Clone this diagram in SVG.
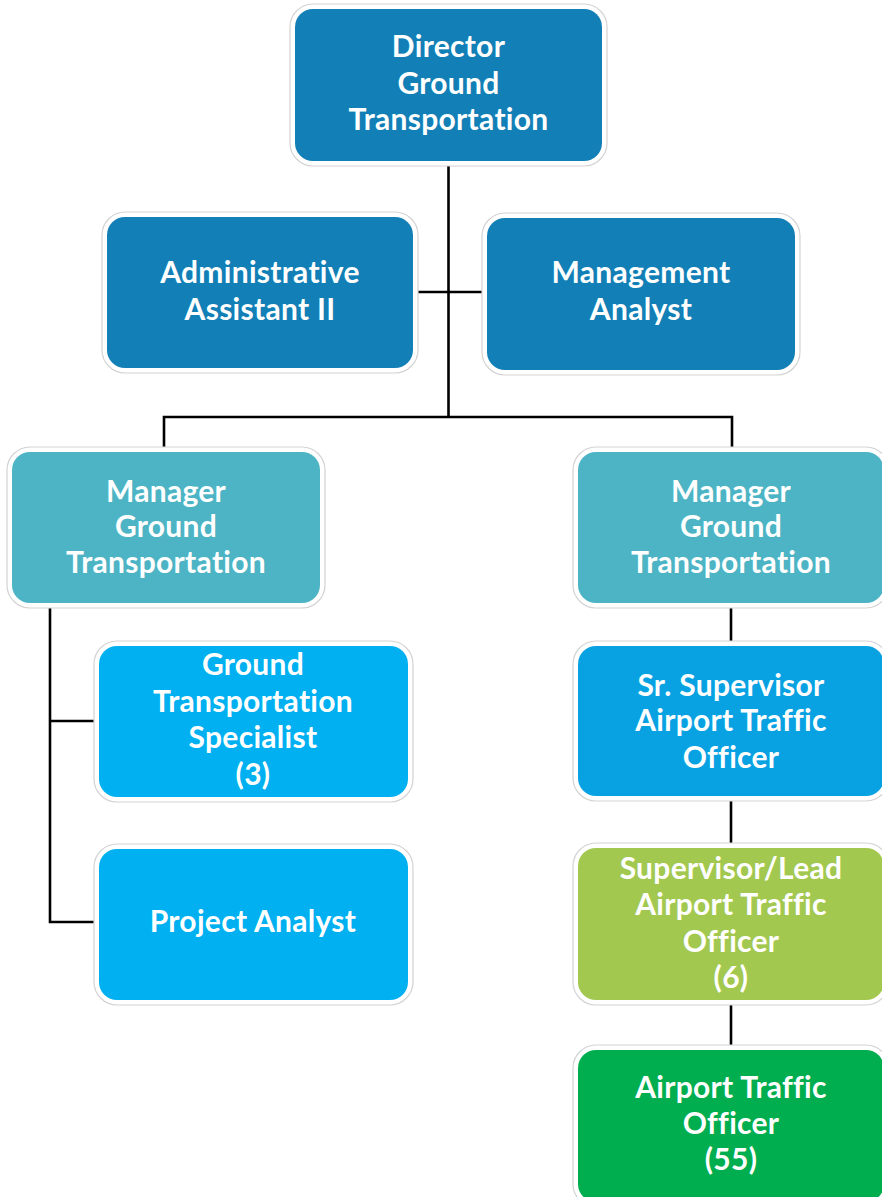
<svg xmlns="http://www.w3.org/2000/svg" width="882" height="1197" viewBox="0 0 882 1197">
<style>
.bg{fill:#fff;stroke:#d3d3d3;stroke-width:1.2}
.t{font-family:Lato,"Open Sans","Liberation Sans",sans-serif;font-weight:bold;font-size:30px;letter-spacing:0.3px;fill:#fff;text-anchor:middle}
.c{fill:none;stroke:#000;stroke-width:2.6}
.dk{fill:#127FB7}.tl{fill:#4CB4C4}.lb{fill:#00B0F0}.sb{fill:#08A2E3}.yg{fill:#A3C850}.gr{fill:#00AE4F}
</style>
<rect width="882" height="1197" fill="#fff"/>
<g id="connectors">
<path class="c" d="M448.5 163V417M413 292H487M164 452V417H732V452M50 605V922H99M50 721H99M731 605V646M731 798V848M731 1001V1050"/>
</g>
<g id="director">
<rect class="bg" x="290" y="4" width="317" height="162" rx="23"/>
<rect class="dk" x="295" y="9" width="307" height="152" rx="18"/>
<text class="t" x="448.5" y="57">Director</text>
<text class="t" x="448.5" y="94">Ground</text>
<text class="t" x="448.5" y="130">Transportation</text>
</g>
<g id="admin">
<rect class="bg" x="102" y="212" width="316" height="161" rx="23"/>
<rect class="dk" x="107" y="217" width="306" height="151" rx="18"/>
<text class="t" x="260" y="283">Administrative</text>
<text class="t" x="260" y="320">Assistant II</text>
</g>
<g id="mgmt-analyst">
<rect class="bg" x="482" y="213" width="318" height="162" rx="23"/>
<rect class="dk" x="487" y="218" width="308" height="152" rx="18"/>
<text class="t" x="641" y="283">Management</text>
<text class="t" x="641" y="320">Analyst</text>
</g>
<g id="manager-left">
<rect class="bg" x="7" y="447" width="318" height="161" rx="23"/>
<rect class="tl" x="12" y="452" width="308" height="151" rx="18"/>
<text class="t" x="166" y="502">Manager</text>
<text class="t" x="166" y="537">Ground</text>
<text class="t" x="166" y="573">Transportation</text>
</g>
<g id="manager-right">
<rect class="bg" x="573" y="447" width="316" height="161" rx="23"/>
<rect class="tl" x="578" y="452" width="306" height="151" rx="18"/>
<text class="t" x="731" y="502">Manager</text>
<text class="t" x="731" y="537">Ground</text>
<text class="t" x="731" y="573">Transportation</text>
</g>
<g id="gt-specialist">
<rect class="bg" x="94" y="641" width="319" height="161" rx="23"/>
<rect class="lb" x="99" y="646" width="309" height="151" rx="18"/>
<text class="t" x="253" y="675">Ground</text>
<text class="t" x="253" y="712">Transportation</text>
<text class="t" x="253" y="748">Specialist</text>
<text class="t" x="253" y="785">(3)</text>
</g>
<g id="project-analyst">
<rect class="bg" x="94" y="844" width="319" height="161" rx="23"/>
<rect class="lb" x="99" y="849" width="309" height="151" rx="18"/>
<text class="t" x="253" y="932">Project Analyst</text>
</g>
<g id="sr-supervisor">
<rect class="bg" x="573" y="641" width="316" height="160" rx="23"/>
<rect class="sb" x="578" y="646" width="306" height="150" rx="18"/>
<text class="t" x="731" y="696">Sr. Supervisor</text>
<text class="t" x="731" y="731">Airport Traffic</text>
<text class="t" x="731" y="768">Officer</text>
</g>
<g id="supervisor-lead">
<rect class="bg" x="573" y="843" width="316" height="162" rx="23"/>
<rect class="yg" x="578" y="848" width="306" height="152" rx="18"/>
<text class="t" x="731" y="879">Supervisor/Lead</text>
<text class="t" x="731" y="915">Airport Traffic</text>
<text class="t" x="731" y="952">Officer</text>
<text class="t" x="731" y="988">(6)</text>
</g>
<g id="airport-traffic-officer">
<rect class="bg" x="573" y="1045" width="316" height="162" rx="23"/>
<rect class="gr" x="578" y="1050" width="306" height="152" rx="18"/>
<text class="t" x="731" y="1098">Airport Traffic</text>
<text class="t" x="731" y="1134">Officer</text>
<text class="t" x="731" y="1170">(55)</text>
</g>
</svg>
